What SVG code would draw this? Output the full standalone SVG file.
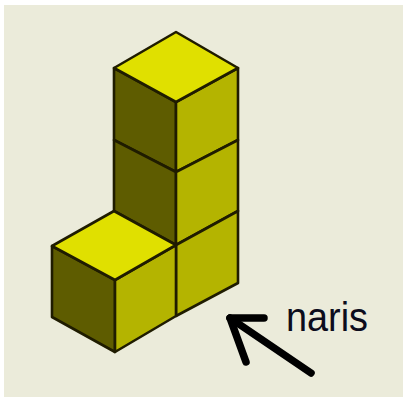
<svg xmlns="http://www.w3.org/2000/svg" width="403" height="397" viewBox="0 0 403 397">
<style>
.e{stroke:#1f1c00;stroke-width:2.6;stroke-linejoin:round;stroke-linecap:round}
.t{fill:#e0e000}.l{fill:#5e5c00}.r{fill:#b4b400}
.a{fill:none;stroke:#000;stroke-width:7.5;stroke-linecap:round;stroke-linejoin:round}
</style>
<rect width="403" height="397" fill="#fff"/>
<rect x="4" y="5" width="399" height="392" fill="#ebebda"/>
<g id="cube-top">
<polygon class="e l" points="114,68 176,102 176,172 114,140"/>
<polygon class="e r" points="176,102 238,68 238,140 176,172"/>
<polygon class="e t" points="176,32 238,68 176,102 114,68"/>
</g>
<g id="cube-middle">
<polygon class="e l" points="114,140 176,172 176,245 114,211"/>
<polygon class="e r" points="176,172 238,140 238,211 176,245"/>
</g>
<g id="cube-bottom-back">
<polygon class="e r" points="176,245 238,211 238,283 176,316"/>
</g>
<g id="cube-front">
<polygon class="e l" points="52,246 115,280 115,352 52,317"/>
<polygon class="e r" points="115,280 176,245 176,316 115,352"/>
<polygon class="e t" points="114,211 176,245 115,280 52,246"/>
</g>
<g id="connectors">
<path class="a" d="M311,373 L230,318"/>
<path class="a" d="M246,362 L230,318 L264,318"/>
</g>
<g id="label">
<text x="286" y="331" font-family="Liberation Sans, sans-serif" font-size="41" textLength="82" lengthAdjust="spacingAndGlyphs" fill="#0c0c1c">naris</text>
</g>
</svg>
